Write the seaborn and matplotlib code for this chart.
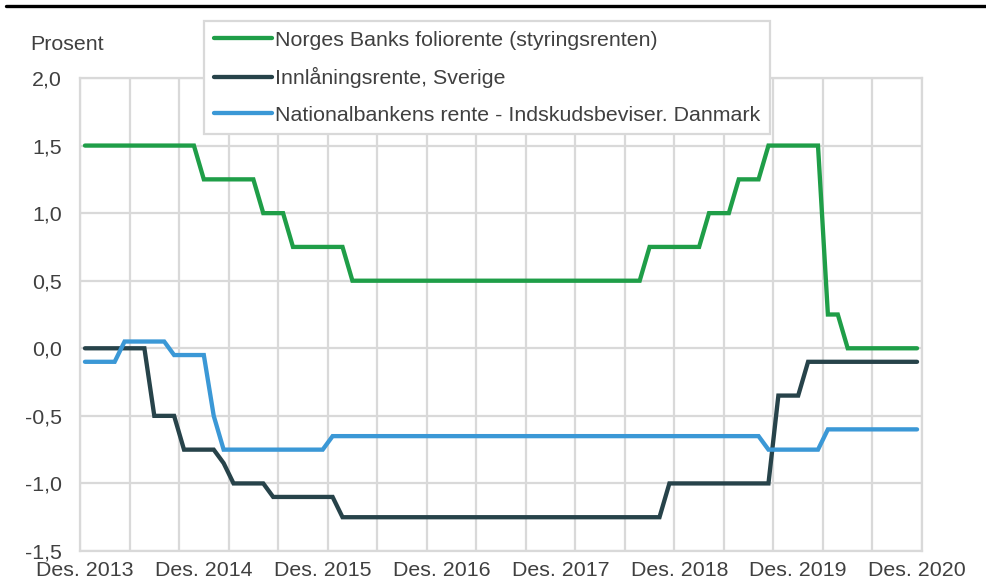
import numpy as np
import pandas as pd
import matplotlib
matplotlib.use("Agg")
import matplotlib.pyplot as plt
import seaborn as sns

# ---- data (monthly, Des. 2013 - Des. 2020) ----
x_tick_labels = ["Des. 2013", "Des. 2014", "Des. 2015", "Des. 2016",
                 "Des. 2017", "Des. 2018", "Des. 2019", "Des. 2020"]
y_ticks = [-1.5, -1.0, -0.5, 0.0, 0.5, 1.0, 1.5, 2.0]
y_tick_labels = ["-1,5", "-1,0", "-0,5", "0,0", "0,5", "1,0", "1,5", "2,0"]

series_names = ["Norges Banks foliorente (styringsrenten)",
                "Innlåningsrente, Sverige",
                "Nationalbankens rente - Indskudsbeviser. Danmark"]

norge = [1.5, 1.5, 1.5, 1.5, 1.5, 1.5, 1.5, 1.5, 1.5, 1.5, 1.5, 1.5,
         1.25, 1.25, 1.25, 1.25, 1.25, 1.25, 1.0, 1.0, 1.0, 0.75, 0.75, 0.75,
         0.75, 0.75, 0.75, 0.5, 0.5, 0.5, 0.5, 0.5, 0.5, 0.5, 0.5, 0.5,
         0.5, 0.5, 0.5, 0.5, 0.5, 0.5, 0.5, 0.5, 0.5, 0.5, 0.5, 0.5,
         0.5, 0.5, 0.5, 0.5, 0.5, 0.5, 0.5, 0.5, 0.5, 0.75, 0.75, 0.75,
         0.75, 0.75, 0.75, 1.0, 1.0, 1.0, 1.25, 1.25, 1.25, 1.5, 1.5, 1.5,
         1.5, 1.5, 1.5, 0.25, 0.25, 0.0, 0.0, 0.0, 0.0, 0.0, 0.0, 0.0,
         0.0]

sverige = [0.0, 0.0, 0.0, 0.0, 0.0, 0.0, 0.0, -0.5, -0.5, -0.5, -0.75, -0.75,
           -0.75, -0.75, -0.85, -1.0, -1.0, -1.0, -1.0, -1.1, -1.1, -1.1, -1.1, -1.1,
           -1.1, -1.1, -1.25, -1.25, -1.25, -1.25, -1.25, -1.25, -1.25, -1.25, -1.25, -1.25,
           -1.25, -1.25, -1.25, -1.25, -1.25, -1.25, -1.25, -1.25, -1.25, -1.25, -1.25, -1.25,
           -1.25, -1.25, -1.25, -1.25, -1.25, -1.25, -1.25, -1.25, -1.25, -1.25, -1.25, -1.0,
           -1.0, -1.0, -1.0, -1.0, -1.0, -1.0, -1.0, -1.0, -1.0, -1.0, -0.35, -0.35,
           -0.35, -0.1, -0.1, -0.1, -0.1, -0.1, -0.1, -0.1, -0.1, -0.1, -0.1, -0.1,
           -0.1]

danmark = [-0.1, -0.1, -0.1, -0.1, 0.05, 0.05, 0.05, 0.05, 0.05, -0.05, -0.05, -0.05,
           -0.05, -0.5, -0.75, -0.75, -0.75, -0.75, -0.75, -0.75, -0.75, -0.75, -0.75, -0.75,
           -0.75, -0.65, -0.65, -0.65, -0.65, -0.65, -0.65, -0.65, -0.65, -0.65, -0.65, -0.65,
           -0.65, -0.65, -0.65, -0.65, -0.65, -0.65, -0.65, -0.65, -0.65, -0.65, -0.65, -0.65,
           -0.65, -0.65, -0.65, -0.65, -0.65, -0.65, -0.65, -0.65, -0.65, -0.65, -0.65, -0.65,
           -0.65, -0.65, -0.65, -0.65, -0.65, -0.65, -0.65, -0.65, -0.65, -0.75, -0.75, -0.75,
           -0.75, -0.75, -0.75, -0.6, -0.6, -0.6, -0.6, -0.6, -0.6, -0.6, -0.6, -0.6,
           -0.6]

colors = ["#1f9e48", "#27434a", "#3b98d6"]

n = len(norge)
month_idx = np.arange(n)
df = pd.DataFrame({
    "t": np.concatenate([month_idx, month_idx, month_idx]),
    "verdi": np.concatenate([norge, sverige, danmark]),
    "serie": np.repeat(series_names, n),
})

# ---- figure ----
sns.set_style("white")
plt.rcParams["font.family"] = ["Liberation Sans", "DejaVu Sans"]
text_color = "#404040"
grid_color = "#d9d9d9"
fs = 15.4

W, H = 987, 579
fig = plt.figure(figsize=(W / 100, H / 100), dpi=100)
left, right, top, bottom = 80, 922, 78, 551
ax = fig.add_axes([left / W, 1 - bottom / H, (right - left) / W, (bottom - top) / H])

sns.lineplot(data=df, x="t", y="verdi", hue="serie", hue_order=series_names,
             palette=colors, linewidth=3.1, ax=ax, legend=True,
             solid_joinstyle="miter", zorder=3)

ax.set_xlim(-0.5, n - 0.5)
ax.set_ylim(-1.5, 2.0)

# grid: vertical every 5 months at category boundaries
ax.set_xticks(np.arange(-0.5, n, 5), minor=True)
ax.set_xticks(np.arange(0, n, 12))
ax.set_xticklabels(x_tick_labels)
ax.set_yticks(y_ticks)
ax.set_yticklabels(y_tick_labels)
ax.grid(False)
ax.grid(True, which="minor", axis="x", color=grid_color, linewidth=1.6, zorder=0)
ax.grid(True, which="major", axis="y", color=grid_color, linewidth=1.6, zorder=0)
ax.set_axisbelow(True)
for s in ax.spines.values():
    s.set_color(grid_color)
    s.set_linewidth(1.6)

ax.tick_params(axis="both", which="both", length=0, labelsize=fs, colors=text_color)
ax.tick_params(axis="y", pad=13)
ax.tick_params(axis="x", pad=7.5)
ax.set_xlabel("")
ax.set_ylabel("")

fig.text(30 / W, 1 - 44 / H, "Prosent", fontsize=fs, color=text_color,
         ha="left", va="center")

# top black rule
fig.add_artist(plt.Line2D([6 / W, 1.0], [1 - 6.3 / H, 1 - 6.3 / H],
                          transform=fig.transFigure, color="black", linewidth=2.4))

# legend
handles, labels = ax.get_legend_handles_labels()
leg = ax.legend(handles, labels, loc="upper left",
                bbox_to_anchor=(204 / W, 1 - 21 / H), bbox_transform=fig.transFigure,
                borderaxespad=0, frameon=True, fancybox=False, fontsize=fs,
                handlelength=2.73, handletextpad=0.14, labelspacing=0.82,
                borderpad=0.45, framealpha=1.0)
leg.get_frame().set_edgecolor(grid_color)
leg.get_frame().set_linewidth(1.6)
for t in leg.get_texts():
    t.set_color(text_color)
for h in leg.get_lines():
    h.set_linewidth(3.1)
leg.set_zorder(5)

fig.savefig("out.png", dpi=100)
